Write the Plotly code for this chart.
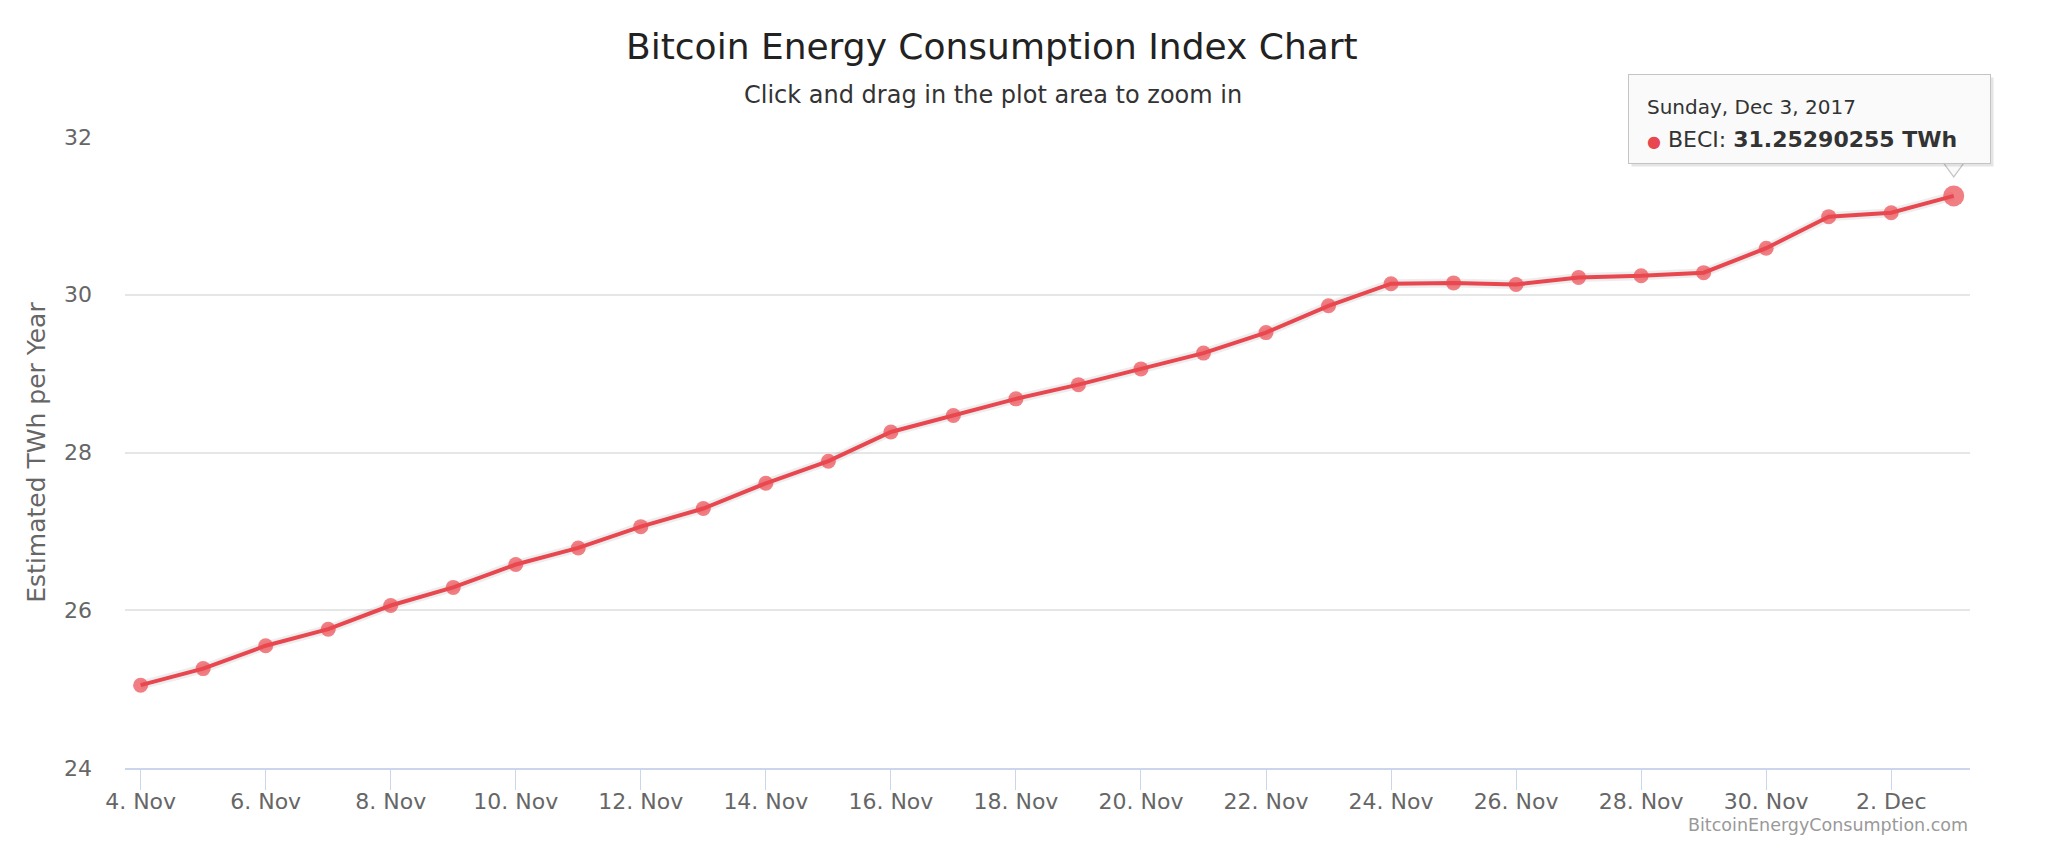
import plotly.graph_objects as go

# ---- data ----
dates = ["2017-11-04", "2017-11-05", "2017-11-06", "2017-11-07", "2017-11-08",
         "2017-11-09", "2017-11-10", "2017-11-11", "2017-11-12", "2017-11-13",
         "2017-11-14", "2017-11-15", "2017-11-16", "2017-11-17", "2017-11-18",
         "2017-11-19", "2017-11-20", "2017-11-21", "2017-11-22", "2017-11-23",
         "2017-11-24", "2017-11-25", "2017-11-26", "2017-11-27", "2017-11-28",
         "2017-11-29", "2017-11-30", "2017-12-01", "2017-12-02", "2017-12-03"]
beci = [25.05, 25.26, 25.55, 25.76, 26.06, 26.29, 26.58, 26.79, 27.06, 27.29,
        27.61, 27.89, 28.26, 28.47, 28.68, 28.86, 29.06, 29.26, 29.52, 29.86,
        30.14, 30.15, 30.13, 30.22, 30.24, 30.28, 30.59, 30.99, 31.04, 31.25290255]
y_ticks = [24, 26, 28, 30, 32]
title_text = "Bitcoin Energy Consumption Index Chart"
subtitle_text = "Click and drag in the plot area to zoom in"
y_title = "Estimated TWh per Year"
credit_text = "BitcoinEnergyConsumption.com"
tooltip_date = "Sunday, Dec 3, 2017"
series_name = "BECI"

RED = "#e9474f"
FONT = "DejaVu Sans"

W, H = 2059, 842
ML, MR, MT, MB = 125, 89, 137, 74
PW, PH = W - ML - MR, H - MT - MB


def px_to_paper(xp, yp):
    """Convert page pixel position (from top-left) to paper coordinates."""
    return (xp - ML) / PW, (H - yp - MB) / PH


fig = go.Figure()

# soft shadow under line
fig.add_trace(go.Scatter(
    x=dates, y=beci, mode="lines",
    line=dict(color="rgba(0,0,0,0.07)", width=9),
    hoverinfo="skip", showlegend=False,
))

sizes = [15] * (len(beci) - 1) + [21]
fig.add_trace(go.Scatter(
    x=dates, y=beci, mode="lines+markers", name=series_name,
    line=dict(color=RED, width=4),
    marker=dict(color=RED, size=sizes, line=dict(width=0)),
    hovertemplate="%{x|%A, %b %-d, %Y}<br>● " + series_name + ": <b>%{y} TWh</b><extra></extra>",
    showlegend=False,
))

last_x, last_y = dates[-1], beci[-1]

# tooltip pointer (pixel offsets relative to the last point)
fig.add_shape(type="path", path="M -11,34 L 0,19 L 11,34",
              xref="x", yref="y", xsizemode="pixel", ysizemode="pixel",
              xanchor=last_x, yanchor=last_y,
              fillcolor="rgba(250,250,250,1)", line=dict(color="#c4c4c4", width=1.2),
              layer="above")

# tooltip box: shadow then box
for dx, dy, bg, bc in [(3, -3, "rgba(0,0,0,0.10)", "rgba(0,0,0,0)"),
                       (0, 0, "rgba(250,250,250,0.97)", "#c4c4c4")]:
    fig.add_annotation(x=last_x, y=last_y, xref="x", yref="y", showarrow=False,
                       xanchor="left", yanchor="bottom", xshift=-326 + dx, yshift=32 + dy,
                       text=" ", width=361, height=88, borderpad=0, borderwidth=1,
                       bgcolor=bg, bordercolor=bc)

fig.add_annotation(x=last_x, y=last_y, xref="x", yref="y", showarrow=False,
                   xanchor="left", yanchor="middle", xshift=-309, yshift=89,
                   text=tooltip_date, font=dict(family=FONT, size=20, color="#333333"))
fig.add_annotation(x=last_x, y=last_y, xref="x", yref="y", showarrow=False,
                   xanchor="left", yanchor="middle", xshift=-309, yshift=56,
                   text=(f"<span style='color:{RED};font-size:16px'>●</span> {series_name}: "
                         f"<b>{last_y:.8f} TWh</b>"),
                   font=dict(family=FONT, size=22, color="#333333"))

# titles and credits (placed in page pixels)
for txt, xp, yp, size, color, xa in [
        (title_text, 992, 46, 36, "#222222", "center"),
        (subtitle_text, 993, 95, 24, "#333333", "center"),
        (credit_text, 1970, 825, 17.5, "#999999", "right")]:
    px, py = px_to_paper(xp, yp)
    fig.add_annotation(x=px, y=py, xref="paper", yref="paper", showarrow=False,
                       xanchor=xa, yanchor="middle", text=txt,
                       font=dict(family=FONT, size=size, color=color))

fig.update_layout(
    width=W, height=H,
    margin=dict(l=ML, r=MR, t=MT, b=MB, autoexpand=False),
    paper_bgcolor="white", plot_bgcolor="white",
    font=dict(family=FONT, color="#666666"),
    showlegend=False,
    hoverlabel=dict(bgcolor="white", font=dict(family=FONT, size=18, color="#333")),
)
fig.update_xaxes(
    type="date",
    range=["2017-11-03 18:00", "2017-12-03 06:15"],
    tick0="2017-11-04", dtick=2 * 86400000, tickformat="%-d. %b",
    ticks="outside", ticklen=20, tickwidth=1.2, tickcolor="#ccd6eb",
    ticklabelstandoff=-7,
    showline=True, linecolor="#ccd6eb", linewidth=2,
    showgrid=False, zeroline=False,
    tickfont=dict(family=FONT, size=22, color="#666666"),
)
fig.update_yaxes(
    range=[24, 32], tickvals=y_ticks,
    showgrid=True, gridcolor="#e6e6e6", gridwidth=1.5,
    zeroline=False, showline=False, ticks="",
    ticklabelstandoff=32,
    tickfont=dict(family=FONT, size=22, color="#666666"),
    title=dict(text=y_title, standoff=11, font=dict(family=FONT, size=25, color="#666666")),
)

fig.write_html("out.html", config={"displayModeBar": False},
               post_script="document.body.style.margin='0';document.body.style.overflow='hidden';")
